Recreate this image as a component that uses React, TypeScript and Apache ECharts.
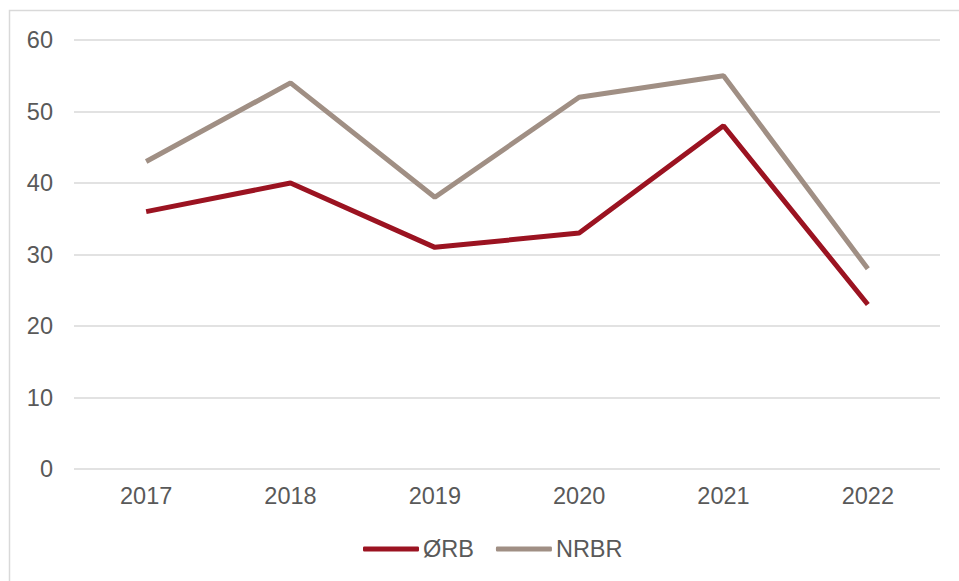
import React, { useEffect, useRef } from "react";
import * as echarts from "echarts";

const categories = ["2017", "2018", "2019", "2020", "2021", "2022"];
const orbValues = [36, 40, 31, 33, 48, 23];
const nrbrValues = [43, 54, 38, 52, 55, 28];
const seriesNames = ["ØRB", "NRBR"];

export default function App() {
  const ref = useRef<HTMLDivElement>(null);
  useEffect(() => {
    if (!ref.current) return;
    const chart = echarts.init(ref.current, undefined, { renderer: "svg" });
    const font = "'Liberation Sans', Arial, sans-serif";
    chart.setOption({
      animation: false,
      backgroundColor: "#ffffff",
      textStyle: { fontFamily: font },
      graphic: [
        {
          type: "rect",
          shape: { x: 9.5, y: 10.5, width: 960, height: 580 },
          style: { fill: "none", stroke: "#d9d9d9", lineWidth: 1.5 },
          silent: true,
        },
      ],
      grid: { left: 74, right: 19, top: 40, bottom: 112, containLabel: false },
      legend: {
        top: 537,
        left: 363,
        padding: 0,
        itemWidth: 56,
        itemHeight: 5,
        itemGap: 22,
        icon: "roundRect",
        textStyle: { fontSize: 23.5, color: "#595959", fontFamily: font, padding: [0, 0, 0, -1] },
        data: seriesNames,
      },
      xAxis: {
        type: "category",
        data: categories,
        boundaryGap: true,
        axisLine: { show: false },
        axisTick: { show: false },
        axisLabel: { fontSize: 23.5, color: "#595959", margin: 15, fontFamily: font },
      },
      yAxis: {
        type: "value",
        min: 0,
        max: 60,
        interval: 10,
        axisLine: { show: false },
        axisTick: { show: false },
        axisLabel: { fontSize: 23.5, color: "#595959", margin: 21, fontFamily: font },
        splitLine: { lineStyle: { color: "#d9d9d9", width: 1.5 } },
      },
      series: [
        {
          name: seriesNames[0],
          type: "line",
          data: orbValues,
          symbol: "none",
          lineStyle: { color: "#9B1321", width: 5 },
          itemStyle: { color: "#9B1321" },
        },
        {
          name: seriesNames[1],
          type: "line",
          data: nrbrValues,
          symbol: "none",
          lineStyle: { color: "#A08F84", width: 5 },
          itemStyle: { color: "#A08F84" },
        },
      ],
    });
    return () => chart.dispose();
  }, []);
  return (
    <div
      ref={ref}
      style={{ position: "fixed", left: 0, top: 0, width: 959, height: 581 }}
    />
  );
}
